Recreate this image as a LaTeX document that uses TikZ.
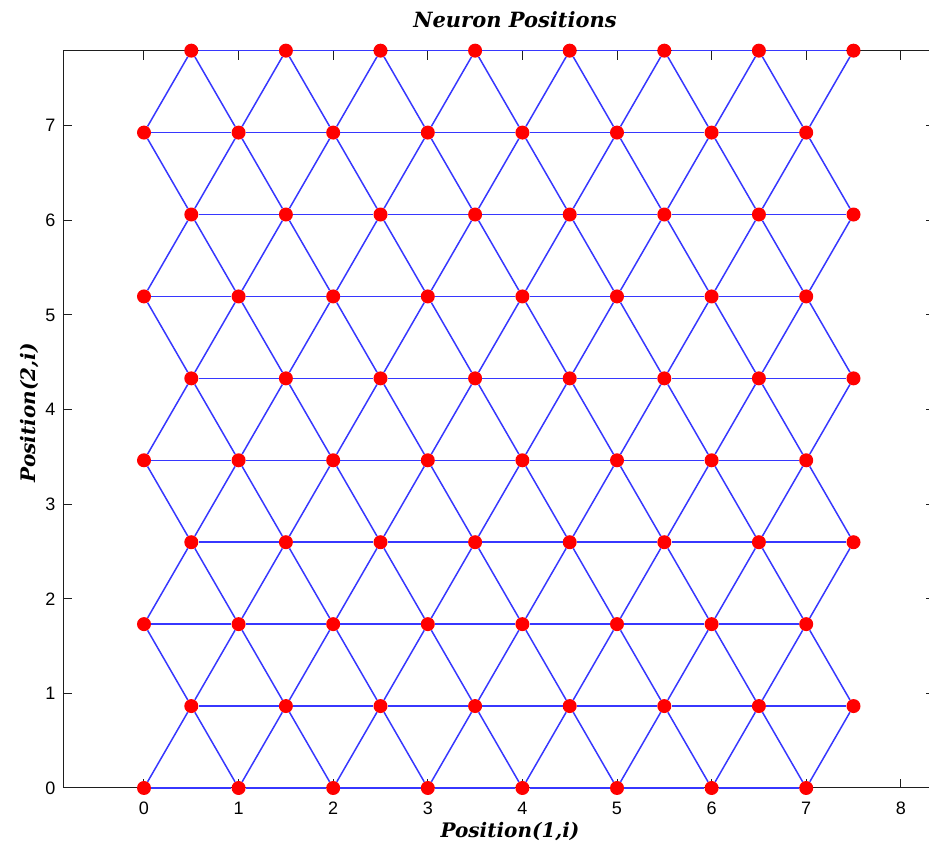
\documentclass[tikz,border=0pt]{standalone}
\usepackage{fontspec}
\setmainfont{Liberation Sans}
\newfontfamily\labelfont{DejaVu Serif}
\definecolor{somblue}{RGB}{55,55,255}
\definecolor{somred}{RGB}{255,0,0}
\definecolor{axgray}{RGB}{30,30,30}
\begin{document}
\begin{tikzpicture}[x=94.6pt,y=94.6pt,
  neuron/.style={circle,fill=somred,draw=none,inner sep=0pt,minimum size=14pt},
  edge/.style={draw=somblue,line width=1.5pt},
  axisline/.style={draw=axgray,line width=1pt},
  ticklab/.style={font=\fontsize{18}{20}\selectfont,inner sep=0pt},
  axlab/.style={font=\labelfont\bfseries\itshape\fontsize{20}{22}\selectfont,inner sep=0pt},
  titlelab/.style={font=\labelfont\bfseries\itshape\fontsize{21}{24}\selectfont,inner sep=0pt}]
\useasboundingbox (-1.5222,-0.7082) rectangle (8.2981,8.3298);
% axes box
\coordinate (bl) at (-0.856,0);
\coordinate (tl) at (-0.856,7.7942);
\coordinate (br) at (8.40,0);
\coordinate (tr) at (8.40,7.7942);
\draw[axisline] (br) -- (bl) -- (tl) -- (tr);
% x ticks
\foreach \i in {0,...,8}{
  \draw[axisline] (\i,0) -- (\i,0.095);
  \draw[axisline] (\i,7.7942) -- (\i,7.6992);
  \node[ticklab] (xt\i) at (\i,-0.211) {\i};
}
% y ticks
\foreach \j in {0,...,7}{
  \draw[axisline] (-0.856,\j) -- (-0.761,\j);
  \draw[axisline] (8.356,\j) -- (8.261,\j);
  \node[ticklab,anchor=east] (yt\j) at (-0.935,\j) {\j};
}
% neurons
\foreach \r in {0,...,9}{
  \foreach \c in {0,...,7}{
    \pgfmathsetmacro{\xx}{\c+0.5*mod(\r,2)}
    \pgfmathsetmacro{\yy}{\r*0.8660254}
    \node[neuron] (n-\r-\c) at (\xx,\yy) {};
  }
}
% horizontal links
\foreach \r in {0,...,9}{
  \foreach \c [evaluate=\c as \d using int(\c+1)] in {0,...,6}{
    \draw[edge] (n-\r-\c) -- (n-\r-\d);
  }
}
% diagonal links
\foreach \r [evaluate=\r as \s using int(\r+1)] in {0,...,8}{
  \foreach \c in {0,...,7}{
    \draw[edge] (n-\r-\c) -- (n-\s-\c);
    \pgfmathtruncatemacro{\parity}{mod(\r,2)}
    \ifnum\parity=0
      \ifnum\c>0
        \pgfmathtruncatemacro{\e}{\c-1}
        \draw[edge] (n-\r-\c) -- (n-\s-\e);
      \fi
    \else
      \ifnum\c<7
        \pgfmathtruncatemacro{\e}{\c+1}
        \draw[edge] (n-\r-\c) -- (n-\s-\e);
      \fi
    \fi
  }
}
% labels
\node[titlelab,anchor=base] (title) at (3.922,8.034) {Neuron Positions};
\node[axlab,anchor=base] (xlab) at (3.869,-0.518) {Position(1,i)};
\node[axlab,rotate=90,anchor=base] (ylab) at (-1.15,3.965) {Position(2,i)};
\end{tikzpicture}
\end{document}
